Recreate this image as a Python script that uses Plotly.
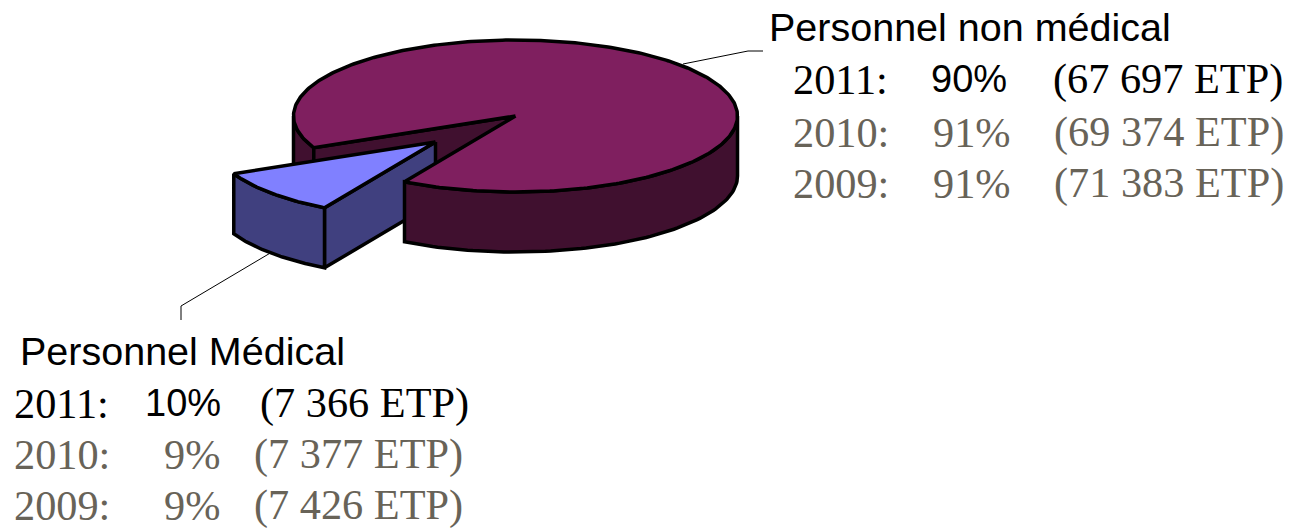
import numpy as np
import plotly.graph_objects as go

# ---- data ----
groups = ["Personnel non médical", "Personnel Médical"]
etp_2011 = [67697, 7366]
years = ["2011:", "2010:", "2009:"]
pct_non_medical = ["90%", "91%", "91%"]
etp_non_medical = ["(67 697 ETP)", "(69 374 ETP)", "(71 383 ETP)"]
pct_medical = ["10%", "9%", "9%"]
etp_medical = ["(7 366 ETP)", "(7 377 ETP)", "(7 426 ETP)"]

# ---- styling and layout constants ----
W, H = 1293, 528
CX, CY, RX, RY, DEPTH = 515.5, 116, 222, 76, 60
START_DEG = 120.0
EXPLODE = (-80, 26)
PURPLE_TOP, PURPLE_SIDE = "#7f1f5f", "#40102f"
BLUE_TOP, BLUE_SIDE = "#8080ff", "#40407f"
GREY = "#686358"
SERIF, SANS = "Liberation Serif", "Liberation Sans"
STROKE = 3.5

share = etp_2011[1] / sum(etp_2011)
sweep = 360 * share
end_deg = START_DEG + sweep


def arc(a0, a1, dx=0, dy=0, n=90):
    t = np.radians(np.linspace(a0, a1, n))
    return CX + RX * np.cos(t) + dx, CY + RY * np.sin(t) + dy


def poly(fig, x, y, fill):
    x = np.append(x, x[0])
    y = np.append(y, y[0])
    fig.add_trace(go.Scatter(x=x, y=y, mode="lines", fill="toself", fillcolor=fill,
                             line=dict(color="black", width=STROKE, shape="linear"),
                             hoverinfo="skip", showlegend=False))


def wall(fig, x, y, fill):
    poly(fig, np.concatenate([x, x[::-1]]), np.concatenate([y, (y + DEPTH)[::-1]]), fill)


def line(fig, x, y):
    fig.add_trace(go.Scatter(x=x, y=y, mode="lines", line=dict(color="black", width=1),
                             hoverinfo="skip", showlegend=False))


fig = go.Figure()

# leader lines
line(fig, [683, 748, 763], [64, 51, 51])
line(fig, [272, 181, 181], [252, 306, 320])

# back parts of the large slice
wall(fig, *arc(end_deg, 180), PURPLE_SIDE)
ex, ey = arc(end_deg, end_deg, n=1)
wall(fig, np.array([CX, ex[0]]), np.array([CY, ey[0]]), PURPLE_SIDE)

# exploded slice
dx, dy = EXPLODE
sx, sy = arc(START_DEG, START_DEG, dx, dy, n=1)
tx, ty = np.array([CX + dx]), np.array([CY + dy])
wall(fig, np.array([tx[0], sx[0]]), np.array([ty[0], sy[0]]), BLUE_SIDE)
wall(fig, *arc(START_DEG, end_deg, dx, dy), BLUE_SIDE)
ax, ay = arc(START_DEG, end_deg, dx, dy)
poly(fig, np.concatenate([tx, ax]), np.concatenate([ty, ay]), BLUE_TOP)

# front wall and top of the large slice
wall(fig, *arc(0, START_DEG), PURPLE_SIDE)
ax, ay = arc(end_deg, START_DEG + 360, n=360)
poly(fig, np.concatenate([[CX], ax]), np.concatenate([[CY], ay]), PURPLE_TOP)


def label(x, y, text, family, size, color):
    fig.add_annotation(x=x, y=y, text=text, showarrow=False, xanchor="left", yanchor="middle",
                       xref="x", yref="y", borderpad=0, borderwidth=0,
                       font=dict(family=family, size=size, color=color))


SERIF_SIZE, SANS_SIZE, TITLE_SIZE = 42.3, 38, 39.5

label(769, 27, groups[0], SANS, TITLE_SIZE, "black")
rows_right = [79, 132, 183]
x_pct_right = [931, 933, 933]
x_etp_right = [1053, 1054, 1054]
for i, yr in enumerate(years):
    c = "black" if i == 0 else GREY
    label(793, rows_right[i], yr, SERIF, SERIF_SIZE, c)
    label(x_pct_right[i], rows_right[i], pct_non_medical[i],
          SANS if i == 0 else SERIF, SANS_SIZE if i == 0 else SERIF_SIZE, c)
    label(x_etp_right[i], rows_right[i], etp_non_medical[i], SERIF, SERIF_SIZE, c)

label(20, 351, groups[1], SANS, TITLE_SIZE, "black")
rows_left = [403, 454, 505]
x_pct_left = [145, 164, 164]
x_etp_left = [260, 254, 254]
for i, yr in enumerate(years):
    c = "black" if i == 0 else GREY
    label(14, rows_left[i], yr, SERIF, SERIF_SIZE, c)
    label(x_pct_left[i], rows_left[i], pct_medical[i],
          SANS if i == 0 else SERIF, SANS_SIZE if i == 0 else SERIF_SIZE, c)
    label(x_etp_left[i], rows_left[i], etp_medical[i], SERIF, SERIF_SIZE, c)

fig.update_xaxes(range=[0, W], visible=False, fixedrange=True)
fig.update_yaxes(range=[H, 0], visible=False, fixedrange=True)
fig.update_layout(width=W, height=H, margin=dict(l=0, r=0, t=0, b=0),
                  plot_bgcolor="white", paper_bgcolor="white", showlegend=False)

fig.write_html("out.html", config=dict(displayModeBar=False),
               post_script="document.body.style.margin='0';document.documentElement.style.overflow='hidden';")
